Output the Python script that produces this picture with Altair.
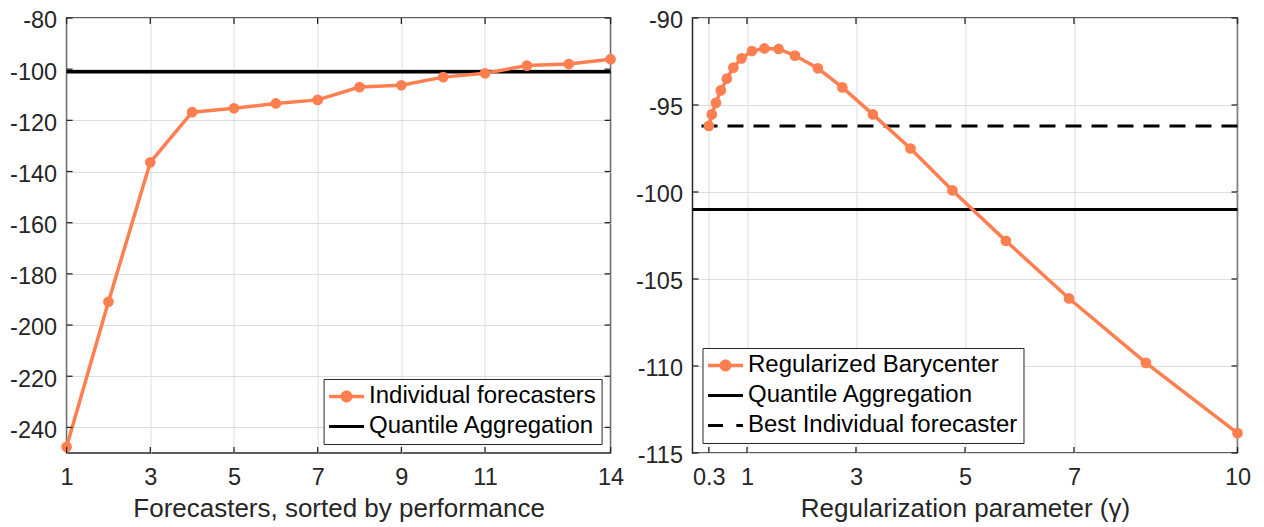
import altair as alt
import pandas as pd

ORANGE = "#FF7F50"
FRAME = "#262626"
FONT = "Liberation Sans"

# ---------------- data: left panel ----------------
left_x = [1, 2, 3, 4, 5, 6, 7, 8, 9, 10, 11, 12, 13, 14]
left_y = [-247.6, -190.9, -136.4, -116.8, -115.3, -113.4, -112.0, -107.0,
          -106.3, -103.1, -101.6, -98.6, -98.0, -96.1]
left_quantile = -101.0
left_xticks = [1, 3, 5, 7, 9, 11, 14]
left_yticks = [-80, -100, -120, -140, -160, -180, -200, -220, -240]
left_xdomain = [1, 14]
left_ydomain = [-250, -80]
left_names = ["Individual forecasters", "Quantile Aggregation"]

# ---------------- data: right panel ----------------
right_x = [0.3, 0.354, 0.43, 0.52, 0.63, 0.75, 0.9, 1.09, 1.32, 1.58,
           1.88, 2.3, 2.75, 3.31, 4.0, 4.77, 5.75, 6.91, 8.32, 10.0]
right_y = [-96.2, -95.54, -94.88, -94.16, -93.49, -92.85, -92.32, -91.90,
           -91.75, -91.78, -92.16, -92.89, -93.99, -95.54, -97.50, -99.91,
           -102.81, -106.12, -109.82, -113.86]
right_quantile = -101.0
right_best = -96.2
right_xticks = [0.3, 1, 3, 5, 7, 10]
right_yticks = [-90, -95, -100, -105, -110, -115]
right_xdomain = [0, 10]
right_ydomain = [-115, -90]
right_names = ["Regularized Barycenter", "Quantile Aggregation", "Best Individual forecaster"]

# legend symbol glyphs (unit = 12px; drawn wider than the nominal symbol box)
SYM_LINE_DOT = ("M-1,-0.146H1.917V0.146H-1Z "
                "M-0.042,0A0.5,0.5 0 1,1 0.958,0A0.5,0.5 0 1,1 -0.042,0Z")
SYM_LINE = "M-1,-0.125H1.917V0.125H-1Z"
SYM_DASH = "M-1,-0.125H0.25V0.125H-1Z M1.36,-0.125H1.917V0.125H1.36Z"

W_L, W_R, H = 544, 545, 435


def panel(xs, ys, hlines, xticks, yticks, xdom, ydom, xtitle,
          names, shapes, colors, orient, offset, width, field):
    df = pd.DataFrame({"x": xs, "y": ys})
    label_expr = "toString(datum.value)"
    x_enc = alt.X("x:Q", scale=alt.Scale(domain=xdom, nice=False, zero=False),
                  axis=alt.Axis(values=xticks, title=xtitle, labelExpr=label_expr,
                                labelFlush=False, labelOverlap=False))
    y_enc = alt.Y("y:Q", scale=alt.Scale(domain=ydom, nice=False, zero=False),
                  axis=alt.Axis(values=yticks, title=None, labelExpr=label_expr,
                                labelOverlap=False))

    layers = []
    for val, dash, sw in hlines:
        kw = dict(color="black", strokeWidth=sw)
        if dash:
            kw["strokeDash"] = dash
        layers.append(alt.Chart(pd.DataFrame({"y": [val]})).mark_rule(**kw).encode(y=y_enc))

    layers.append(alt.Chart(df).mark_line(color=ORANGE, strokeWidth=3.5).encode(x=x_enc, y=y_enc))
    layers.append(alt.Chart(df).mark_circle(color=ORANGE, size=115, opacity=1).encode(x=x_enc, y=y_enc))

    # inward ticks on all four sides
    xt = pd.DataFrame({"x": xticks})
    yt = pd.DataFrame({"y": yticks})
    tk = dict(color=FRAME, strokeWidth=1.3)
    layers.append(alt.Chart(xt).mark_rule(**tk).encode(x=x_enc, y=alt.value(H), y2=alt.value(H - 6)))
    layers.append(alt.Chart(xt).mark_rule(**tk).encode(x=x_enc, y=alt.value(0), y2=alt.value(6)))
    layers.append(alt.Chart(yt).mark_rule(**tk).encode(y=y_enc, x=alt.value(0), x2=alt.value(6)))
    layers.append(alt.Chart(yt).mark_rule(**tk).encode(y=y_enc, x=alt.value(width), x2=alt.value(width - 6)))

    legend = alt.Legend(title=None, orient=orient, offset=offset,
                        labelFontSize=24, labelFont=FONT, labelColor="black", labelLimit=600,
                        symbolSize=576, symbolStrokeWidth=0, symbolOpacity=1,
                        padding=5.5, rowPadding=6, labelOffset=16,
                        strokeColor=FRAME, fillColor="white", cornerRadius=0)
    leg_df = pd.DataFrame({field: names})
    layers.append(
        alt.Chart(leg_df).mark_point(filled=True, opacity=1).encode(
            color=alt.Color(f"{field}:N", scale=alt.Scale(domain=names, range=colors), legend=legend),
            shape=alt.Shape(f"{field}:N", scale=alt.Scale(domain=names, range=shapes), legend=legend),
        ).transform_filter(alt.datum[field] == "__none__")
    )
    return alt.layer(*layers).properties(width=width, height=H)


left = panel(left_x, left_y, [(left_quantile, None, 3.5)], left_xticks, left_yticks,
             left_xdomain, left_ydomain, "Forecasters, sorted by performance",
             left_names, [SYM_LINE_DOT, SYM_LINE], [ORANGE, "black"],
             "bottom-right", 9, W_L, "series_l")

right = panel(right_x, right_y, [(right_quantile, None, 3), (right_best, [16, 10], 3)],
              right_xticks, right_yticks, right_xdomain, right_ydomain,
              "Regularization parameter (γ)",
              right_names, [SYM_LINE_DOT, SYM_LINE, SYM_DASH], [ORANGE, "black", "black"],
              "bottom-left", 10, W_R, "series_r")

chart = alt.hconcat(left, right, spacing=9.9).resolve_scale(
    color="independent", shape="independent"
).properties(
    padding={"left": 0.6, "top": 0, "right": 0, "bottom": 0}
).configure_view(
    stroke=FRAME, strokeWidth=1.5
).configure_axis(
    grid=True, gridColor="#DEDEDE", gridWidth=1, domain=False, ticks=False, tickSize=0,
    labelFont=FONT, labelFontSize=23.5, labelColor=FRAME,
    titleFont=FONT, titleFontSize=26, titleColor=FRAME, titleFontWeight="normal",
).configure_axisX(
    labelPadding=13, titlePadding=6
).configure_axisY(
    labelPadding=10, labelBaseline="alphabetic", labelOffset=9.9
)

chart.save("out.html", embed_options={"renderer": "svg", "actions": False})
